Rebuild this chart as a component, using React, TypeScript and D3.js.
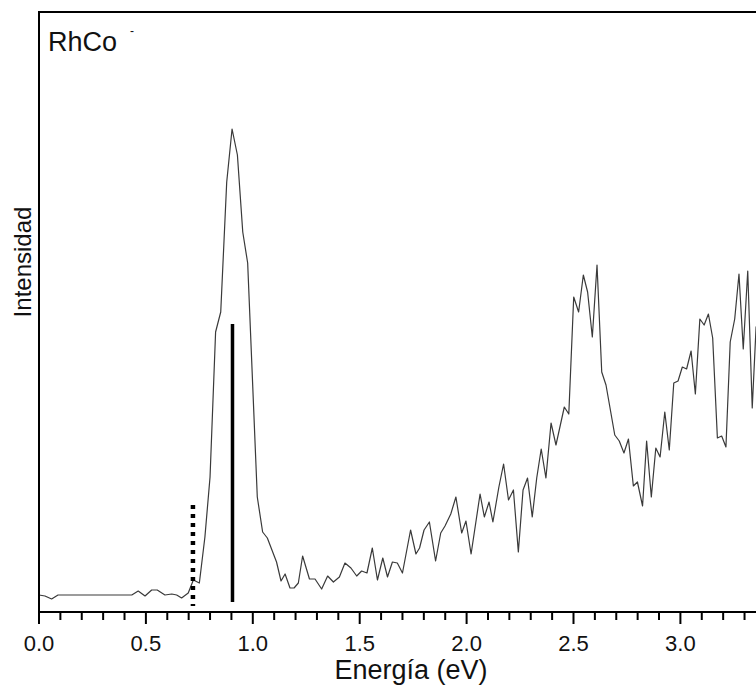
import React from "react";
import * as d3 from "d3";

const energy: number[] = [
  0.0, 0.028, 0.059, 0.089, 0.434, 0.464, 0.496, 0.527, 0.553, 0.589, 0.621, 0.644, 0.667, 0.698,
  0.722, 0.75, 0.776, 0.8, 0.826, 0.85, 0.878, 0.903, 0.928, 0.953, 0.976, 1.021, 1.046, 1.068,
  1.111, 1.132, 1.151, 1.174, 1.193, 1.213, 1.233, 1.265, 1.291, 1.322, 1.35, 1.377, 1.405, 1.431,
  1.459, 1.486, 1.509, 1.534, 1.559, 1.583, 1.608, 1.63, 1.653, 1.676, 1.7, 1.738, 1.763, 1.78,
  1.801, 1.826, 1.855, 1.879, 1.899, 1.926, 1.95, 1.977, 1.997, 2.021, 2.063, 2.083, 2.105, 2.123,
  2.151, 2.173, 2.196, 2.219, 2.242, 2.264, 2.285, 2.307, 2.328, 2.349, 2.371, 2.395, 2.418, 2.457,
  2.478, 2.501, 2.524, 2.546, 2.566, 2.588, 2.61, 2.632, 2.652, 2.693, 2.714, 2.736, 2.757, 2.78,
  2.799, 2.823, 2.842, 2.864, 2.885, 2.905, 2.927, 2.948, 2.969, 2.989, 3.009, 3.029, 3.05, 3.07,
  3.091, 3.111, 3.131, 3.151, 3.173, 3.193, 3.213, 3.233, 3.254, 3.274, 3.294, 3.315, 3.336, 3.354,
  3.375,
];

const intensity: number[] = [
  17, 16, 13, 17, 17, 21, 16, 22, 22, 17, 18, 17, 14, 19,
  32, 29, 75, 135, 280, 300, 430, 483, 457, 380, 349, 115, 80, 74,
  50, 31, 38, 24, 24, 29, 56, 33, 33, 23, 36, 30, 35, 49,
  44, 36, 41, 39, 64, 32, 54, 35, 50, 49, 39, 82, 58, 64,
  82, 90, 51, 79, 86, 98, 115, 79, 91, 58, 118, 95, 110, 90,
  125, 148, 112, 122, 60, 122, 134, 95, 134, 163, 134, 189, 167, 205,
  198, 315, 300, 337, 320, 275, 347, 240, 227, 177, 171, 159, 173, 126,
  130, 106, 171, 115, 164, 155, 200, 162, 229, 231, 245, 243, 261, 218,
  293, 287, 298, 274, 174, 176, 165, 270, 293, 338, 263, 341, 204, 285,
  290,
];

// Calculated transition energies (eV) and stick heights
const solidStick = { energy: 0.905, top: 288 };
const dottedStick = { energy: 0.72, top: 107 };

const xTicksMajor: number[] = [0, 0.5, 1.0, 1.5, 2.0, 2.5, 3.0];
const xTicksMinor: number[] = [
  0.1, 0.2, 0.3, 0.4, 0.6, 0.7, 0.8, 0.9, 1.1, 1.2, 1.3, 1.4, 1.6, 1.7, 1.8, 1.9,
  2.1, 2.2, 2.3, 2.4, 2.6, 2.7, 2.8, 2.9, 3.1, 3.2, 3.3,
];

const W = 756;
const H = 686;
const FONT = "'Liberation Sans', Arial, Helvetica, sans-serif";

export default function App() {
  const x = d3.scaleLinear().domain([0, 3.4]).range([39, 39 + 3.4 * 213.8]);
  const y = d3.scaleLinear().domain([0, 600]).range([612, 12]);

  const pts: [number, number][] = energy.map((e, i) => [e, intensity[i]]);
  const line = d3
    .line<[number, number]>()
    .x((d) => x(d[0]))
    .y((d) => y(d[1]));

  const left = x(0);
  const right = x(3.4);
  const top = y(600);
  const bottom = y(0);

  return (
    <svg
      width={W}
      height={H}
      style={{ position: "absolute", left: 0, top: 0, background: "#fff" }}
      fontFamily={FONT}
    >
      <defs>
        <clipPath id="plotclip">
          <rect x={left} y={top} width={right - left} height={bottom - top} />
        </clipPath>
      </defs>

      {/* spectrum */}
      <path
        d={line(pts) || ""}
        fill="none"
        stroke="#3a3a3a"
        strokeWidth={1.2}
        strokeLinejoin="round"
        clipPath="url(#plotclip)"
      />

      {/* sticks */}
      <line
        x1={x(dottedStick.energy)}
        x2={x(dottedStick.energy)}
        y1={y(dottedStick.top)}
        y2={y(6)}
        stroke="#000"
        strokeWidth={4.5}
        strokeDasharray="4,5"
      />
      <line
        x1={x(solidStick.energy)}
        x2={x(solidStick.energy)}
        y1={y(solidStick.top)}
        y2={y(10)}
        stroke="#000"
        strokeWidth={3.5}
      />

      {/* frame */}
      <rect
        x={left}
        y={top}
        width={right - left}
        height={bottom - top}
        fill="none"
        stroke="#000"
        strokeWidth={2}
      />

      {/* ticks */}
      {xTicksMajor.map((t) => (
        <g key={"M" + t}>
          <line x1={x(t)} x2={x(t)} y1={bottom} y2={bottom + 12} stroke="#000" strokeWidth={2} />
          <text x={x(t)} y={651} textAnchor="middle" fontSize={22} fill="#111">
            {d3.format(".1f")(t)}
          </text>
        </g>
      ))}
      {xTicksMinor.map((t) => (
        <line
          key={"m" + t}
          x1={x(t)}
          x2={x(t)}
          y1={bottom}
          y2={bottom + 8}
          stroke="#000"
          strokeWidth={2}
        />
      ))}

      {/* axis titles */}
      <text x={411} y={679} textAnchor="middle" fontSize={27} fill="#111">
        Energía (eV)
      </text>
      <text
        transform={`translate(31,262) rotate(-90)`}
        textAnchor="middle"
        fontSize={24}
        fill="#111"
      >
        Intensidad
      </text>

      {/* label */}
      <text x={48} y={51} fontSize={27} fill="#111">
        RhCo
      </text>
      <text x={130} y={34.5} fontSize={12} fill="#111">
        -
      </text>
    </svg>
  );
}
